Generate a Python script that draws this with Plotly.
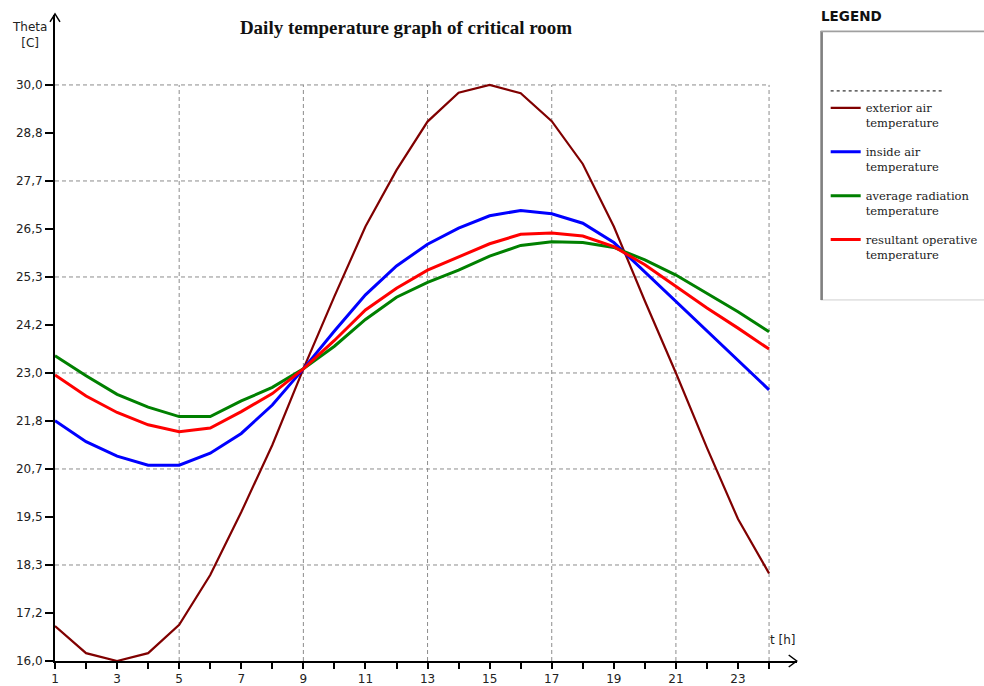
import plotly.graph_objects as go

# ---------------- data ----------------
hours = list(range(1, 25))
exterior_air = [16.85, 16.19, 16.0, 16.19, 16.88, 18.09, 19.62, 21.25, 23.1, 24.86, 26.56, 27.93,
                29.11, 29.81, 30.0, 29.8, 29.12, 28.08, 26.56, 24.75, 23.0, 21.18, 19.45, 18.13]
inside_air = [21.84, 21.33, 20.98, 20.76, 20.76, 21.05, 21.53, 22.22, 23.1, 24.02, 24.9, 25.6,
              26.13, 26.52, 26.82, 26.95, 26.87, 26.64, 26.17, 25.45, 24.73, 24.01, 23.3, 22.59]
avg_radiation = [23.42, 22.93, 22.48, 22.17, 21.94, 21.94, 22.32, 22.65, 23.1, 23.65, 24.3, 24.84,
                 25.2, 25.5, 25.84, 26.1, 26.19, 26.17, 26.05, 25.75, 25.38, 24.94, 24.49, 24.0]
resultant_operative = [22.95, 22.44, 22.04, 21.74, 21.57, 21.66, 22.06, 22.5, 23.1, 23.79, 24.53, 25.06,
                       25.5, 25.83, 26.14, 26.37, 26.4, 26.33, 26.07, 25.63, 25.1, 24.58, 24.09, 23.58]

series_names = ["exterior air<br>temperature", "inside air<br>temperature",
                "average radiation<br>temperature", "resultant operative<br>temperature"]
series_colors = ["#800000", "#0000FF", "#008000", "#FF0000"]
series_widths = [2.2, 3, 3, 3]

x_tick_vals = list(range(1, 25))
x_tick_text = [str(h) if h % 2 == 1 else "" for h in x_tick_vals]
y_min, y_max = 16.0, 30.0
y_tick_text = ["16,0", "17,2", "18,3", "19,5", "20,7", "21,8", "23,0",
               "24,2", "25,3", "26,5", "27,7", "28,8", "30,0"]
y_tick_vals = [y_min + i * (y_max - y_min) / (len(y_tick_text) - 1) for i in range(len(y_tick_text))]
x_grid = [5, 9, 13, 17, 21, 24]
y_grid = y_tick_vals[2::2]

# ---------------- layout geometry ----------------
X_RANGE = [1, 24.9]
Y_RANGE = [16.0, 31.7]
L, R, T, B = 55, 186.7, 15.1, 25
W, H = 984, 686
PW, PH = W - L - R, H - T - B


def px(p):  # pixel x -> paper
    return (p - L) / PW


def py(p):  # pixel y -> paper
    return (H - B - p) / PH


fig = go.Figure()
for name, vals, col, w in zip(series_names, [exterior_air, inside_air, avg_radiation, resultant_operative],
                              series_colors, series_widths):
    fig.add_trace(go.Scatter(x=hours, y=vals, mode="lines", name=name, legendgroup=name,
                             line=dict(color=col, width=w)))

shapes = []
grid_style = dict(color="#8c8c8c", width=1, dash="4px,3px")
for gx in x_grid:
    shapes.append(dict(type="line", xref="x", yref="y", x0=gx, x1=gx, y0=y_min, y1=y_max,
                       line=grid_style, layer="below"))
for gy in y_grid:
    shapes.append(dict(type="line", xref="x", yref="y", x0=1, x1=24, y0=gy, y1=gy,
                       line=grid_style, layer="below"))

# axis arrowheads
shapes.append(dict(type="path", xref="paper", yref="paper",
                   path=f"M{px(50)},{py(22)} L{px(55)},{py(14)} L{px(60)},{py(22)}",
                   line=dict(color="black", width=1.5)))
shapes.append(dict(type="path", xref="paper", yref="paper",
                   path=f"M{px(789)},{py(655)} L{px(797)},{py(661)} L{px(789)},{py(667)}",
                   line=dict(color="black", width=1.5)))

# legend box
shapes.append(dict(type="rect", xref="paper", yref="paper", x0=px(821), x1=px(1000), y0=py(300), y1=py(31),
                   line=dict(color="#cfcfcf", width=1), fillcolor="white", layer="below"))
shapes.append(dict(type="line", xref="paper", yref="paper", x0=px(822), x1=px(822), y0=py(300), y1=py(31),
                   line=dict(color="#808080", width=2.5)))
shapes.append(dict(type="line", xref="paper", yref="paper", x0=px(821), x1=px(990), y0=py(31.5), y1=py(31.5),
                   line=dict(color="#a0a0a0", width=1.5)))
shapes.append(dict(type="line", xref="paper", yref="paper", x0=px(831), x1=px(944), y0=py(91), y1=py(91),
                   line=dict(color="black", width=1, dash="dot")))

annotations = [
    dict(text="Theta<br>[C]", xref="paper", yref="paper", x=px(29), y=py(35), showarrow=False,
         xanchor="center", yanchor="middle", align="center",
         font=dict(family="DejaVu Sans", size=12, color="#222")),
    dict(text="t [h]", xref="paper", yref="paper", x=px(783), y=py(640), showarrow=False,
         xanchor="center", yanchor="middle",
         font=dict(family="DejaVu Sans", size=12, color="#222")),
    dict(text="<b>LEGEND</b>", xref="paper", yref="paper", x=px(819), y=py(16), xanchor="left",
         yanchor="middle", showarrow=False, font=dict(family="DejaVu Sans", size=13.5, color="#111")),
]

fig.update_layout(
    width=W, height=H,
    margin=dict(l=L, r=R, t=T, b=B, autoexpand=False),
    paper_bgcolor="white", plot_bgcolor="white",
    title=dict(text="<b>Daily temperature graph of critical room</b>", xref="container", yref="container",
               x=406 / W, y=1 - 27 / H, xanchor="center", yanchor="middle",
               font=dict(family="Liberation Serif", size=19, color="#111")),
    showlegend=True,
    legend=dict(x=px(826), y=py(94), xanchor="left", yanchor="top",
                font=dict(family="DejaVu Serif", size=11.5, color="#222"),
                bgcolor="rgba(0,0,0,0)", borderwidth=0, traceorder="grouped",
                tracegroupgap=11, itemwidth=30, valign="top"),
    xaxis=dict(range=X_RANGE, tickvals=x_tick_vals, ticktext=x_tick_text, ticks="outside", ticklen=6,
               tickwidth=1.5, tickcolor="black", showgrid=False, zeroline=False, showline=True,
               linecolor="black", linewidth=1.8, tickfont=dict(family="DejaVu Sans", size=12, color="#222"),
               fixedrange=True),
    yaxis=dict(range=Y_RANGE, tickvals=y_tick_vals, ticktext=y_tick_text, ticks="outside", ticklen=8,
               tickwidth=1.5, tickcolor="black", showgrid=False, zeroline=False, showline=True,
               linecolor="black", linewidth=1.8, tickfont=dict(family="DejaVu Sans", size=12, color="#222"),
               fixedrange=True),
    xaxis2=dict(overlaying="x", anchor="y", side="bottom", range=X_RANGE, tickvals=x_tick_vals,
                ticks="inside", ticklen=6, tickwidth=1.5, tickcolor="black", showticklabels=False,
                showgrid=False, zeroline=False, showline=False),
    yaxis2=dict(overlaying="y", anchor="x", side="left", range=Y_RANGE, tickvals=y_tick_vals,
                ticks="inside", ticklen=8, tickwidth=1.5, tickcolor="black", showticklabels=False,
                showgrid=False, zeroline=False, showline=False),
    shapes=shapes, annotations=annotations,
)

fig.write_html("out.html", config={"displayModeBar": False},
               post_script="document.body.style.margin='0px';")
